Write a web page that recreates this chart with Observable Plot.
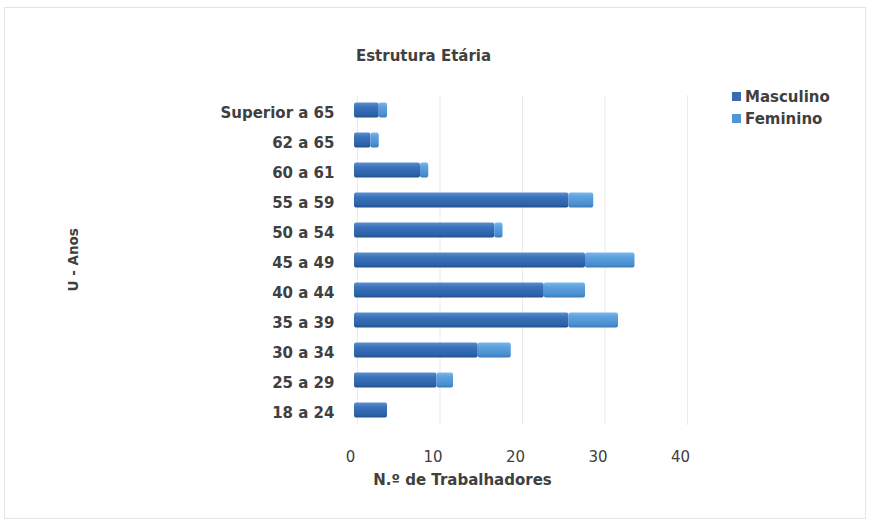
<!DOCTYPE html>
<html><head><meta charset="utf-8">
<script src="https://cdn.jsdelivr.net/npm/d3@7"></script>
<script src="https://cdn.jsdelivr.net/npm/@observablehq/plot@0.6"></script>
<style>
body{margin:0;background:#fff;}
#wrap{position:relative;width:869px;height:522px;}
#border{position:absolute;left:4px;top:7px;width:860px;height:510px;border:1px solid #e4e4e4;pointer-events:none;}
#legend{position:absolute;left:732px;top:86px;font-family:'DejaVu Sans',sans-serif;font-size:15px;font-weight:bold;color:#404040;line-height:22px;}
#legend span.sw{display:inline-block;width:9px;height:9px;margin-right:4px;vertical-align:1px;}
</style></head>
<body><div id="wrap"><div id="border"></div><div id="legend"></div></div>
<script>
const categories = ["Superior a 65","62 a 65","60 a 61","55 a 59","50 a 54","45 a 49","40 a 44","35 a 39","30 a 34","25 a 29","18 a 24"];
const masculino = [3, 2, 8, 26, 17, 28, 23, 26, 15, 10, 4];
const feminino  = [1, 1, 1, 3, 1, 6, 5, 6, 4, 2, 0];
const series = ["Masculino","Feminino"];
const seriesColors = ["#3a6cb0","#4f98d8"];
const xTicks = [0,10,20,30,40];

const rows = [];
categories.forEach((c,i)=>{
  rows.push({cat:c, sex:"Masculino", v:masculino[i]});
  rows.push({cat:c, sex:"Feminino", v:feminino[i]});
});

const font = "'DejaVu Sans', sans-serif";
const txt = "#404040";

const chart = Plot.plot({
  width: 869, height: 522,
  marginLeft: 350, marginRight: 189, marginTop: 95, marginBottom: 97,
  style: {fontFamily: font, fontSize: "15px", color: txt, background: "transparent"},
  x: {domain: [0,40], ticks: xTicks, label: null},
  y: {domain: categories, paddingInner: 0.5, paddingOuter: 0.25, round: false, label: null},
  color: {domain: series, range: ["url(#gM)","url(#gF)"]},
  marks: [
    Plot.gridX(xTicks, {stroke: "#d8d8d8", strokeOpacity: 0.5, dx: 7}),
    Plot.axisX({ticks: xTicks, tickSize: 0, tickPadding: 26, fontSize: 15, fill: txt, label: null}),
    Plot.axisY({tickSize: 0, tickPadding: 16, dy: 3, fontSize: 15, fill: txt, fontWeight: "bold", label: null}),
    Plot.barX(rows, Plot.stackX({x: "v", y: "cat", fill: "sex", order: series, rx: 2, dx: 4})),
    Plot.text(["Estrutura Etária"], {frameAnchor: "top", dx: -92, dy: -45, fontWeight: "bold", fontSize: 15, fill: txt}),
    Plot.text(["N.º de Trabalhadores"], {frameAnchor: "bottom", dx: -53, dy: 59, fontWeight: "bold", fontSize: 15, fill: txt}),
    Plot.text(["U - Anos"], {frameAnchor: "left", dx: -277, dy: 31, rotate: -90, fontWeight: "bold", fontSize: 13.5, fill: txt})
  ]
});
// gradients for cylinder look
const svg = d3.select(chart);
const defs = svg.insert("defs", ":first-child");
function grad(id, stops){
  const g = defs.append("linearGradient").attr("id", id).attr("x1",0).attr("y1",0).attr("x2",0).attr("y2",1);
  stops.forEach(([o,c])=>g.append("stop").attr("offset",o).attr("stop-color",c));
}
grad("gM", [[0,"#5a8fd0"],[0.3,"#3b72bb"],[0.8,"#2c62a8"],[1,"#22528c"]]);
grad("gF", [[0,"#7cb7ea"],[0.3,"#5ba1df"],[0.8,"#4a8ecf"],[1,"#3a79b6"]]);
const wrap = document.getElementById("wrap");
wrap.appendChild(chart);
chart.style.position="absolute"; chart.style.left="0"; chart.style.top="0";
const lg = document.getElementById("legend");
lg.innerHTML = series.map((s,i)=>`<div><span class="sw" style="background:${seriesColors[i]}"></span>${s}</div>`).join("");
wrap.appendChild(lg);
</script></body></html>
